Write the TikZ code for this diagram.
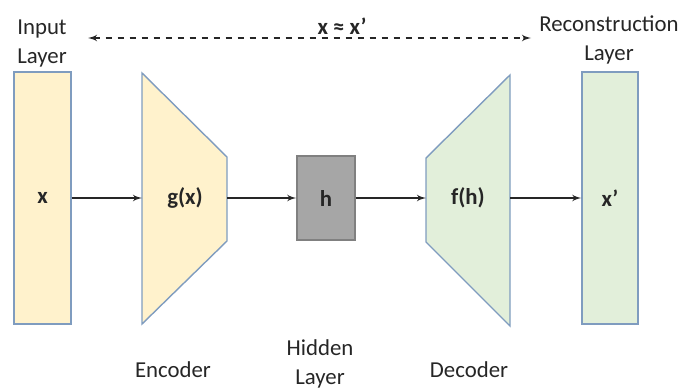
\documentclass[tikz,border=0pt]{standalone}
\usepackage{fontspec}
\setmainfont{Carlito}
\usetikzlibrary{arrows}
\definecolor{beige}{HTML}{FFF2CC}
\definecolor{mint}{HTML}{E2EFDA}
\definecolor{slate}{HTML}{7F9CBF}
\definecolor{ink}{HTML}{262626}
\tikzstyle{layer} = [rectangle, draw=slate, line width=0.7pt, inner sep=0pt]
\tikzstyle{coder} = [draw=slate, line width=0.7pt, line join=miter]
\tikzstyle{sym} = [text=ink, font=\fontsize{11.4}{14}\selectfont\bfseries]
\tikzstyle{caption} = [text=ink, align=center, font=\fontsize{11.4}{14.5}\selectfont]
\tikzstyle{line} = [draw, line width=0.6pt, ink, -latex']

\begin{document}
\begin{tikzpicture}[x=0.5pt, y=-0.5pt]
  \useasboundingbox (0,0) rectangle (684,391);
  % input, hidden and reconstruction layers
  \node [layer, fill=beige, minimum width=28.5pt, minimum height=126pt] (in) at (42.5,198) {};
  \node [sym] at (in) {x};
  \node [layer, draw=gray, fill=gray!70, minimum width=29pt, minimum height=42pt] (hid) at (326,198) {};
  \node [sym] at (hid) {h};
  \node [layer, fill=mint, minimum width=28pt, minimum height=126pt] (out) at (610,198) {};
  \node [sym] at (out) {x’};
  % encoder and decoder
  \draw [coder, fill=beige] (142,73) -- (227,157) -- (227,241) -- (142,324) -- cycle;
  \node [sym] (enc) at (185,198) {g(x)};
  \coordinate (enc-w) at (142,198);
  \coordinate (enc-e) at (227,198);
  \draw [coder, fill=mint] (426,158) -- (510,75) -- (510,326) -- (426,242) -- cycle;
  \node [sym] (dec) at (468,198) {f(h)};
  \coordinate (dec-w) at (426,198);
  \coordinate (dec-e) at (510,198);
  \path [line] (in) -- (enc-w);
  \path [line] (enc-e) -- (hid);
  \path [line] (hid) -- (dec-w);
  \path [line] (dec-e) -- (out);
  % reconstruction target
  \coordinate (da) at (88,38);
  \coordinate (db) at (531,38);
  \path [line, dashed, latex'-latex'] (da) -- (db);
  \node [sym] (eq) at (342,26) {x ≈ x’};
  % captions
  \node [caption] (cin) at (42,44) {Input\\Layer};
  \node [caption] (cout) at (609,40) {Reconstruction\\Layer};
  \node [caption] (cenc) at (173,370) {Encoder};
  \node [caption] (chid) at (320,364) {Hidden\\Layer};
  \node [caption] (cdec) at (469,370) {Decoder};
\end{tikzpicture}
\end{document}
